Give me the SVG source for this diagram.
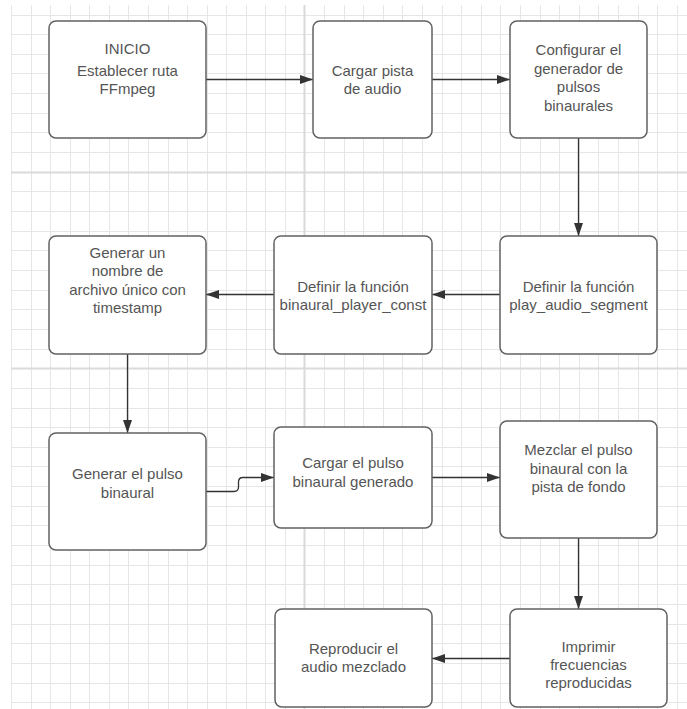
<svg xmlns="http://www.w3.org/2000/svg" width="687" height="709" viewBox="0 0 687 709">
<defs>
<style>
.grid{stroke:#e6e6e6;stroke-width:1;fill:none}
.major{stroke:#dadada;stroke-width:2;fill:none}
.box{fill:#ffffff;stroke:#616161;stroke-width:1.5}
.lbl{font-family:"Liberation Sans",Arial,sans-serif;font-size:15px;fill:#555555;text-anchor:middle}
.conn{stroke:#333333;stroke-width:1.3;fill:none;marker-end:url(#arrow)}
</style>
<marker id="arrow" viewBox="0 0 13 9" refX="13" refY="4.5" markerWidth="13" markerHeight="9" markerUnits="userSpaceOnUse" orient="auto">
<path d="M0,0 L13,4.5 L0,9 Z" fill="#333333"/>
</marker>
</defs>
<rect x="0" y="0" width="687" height="709" fill="#ffffff"/>
<g id="grid">
<path class="grid" d="M11.5 5V709M31.5 5V709M50.5 5V709M70.5 5V709M89.5 5V709M109.5 5V709M128.5 5V709M148.5 5V709M168.5 5V709M187.5 5V709M207.5 5V709M226.5 5V709M246.5 5V709M265.5 5V709M285.5 5V709M324.5 5V709M344.5 5V709M363.5 5V709M383.5 5V709M402.5 5V709M422.5 5V709M442.5 5V709M461.5 5V709M481.5 5V709M500.5 5V709M520.5 5V709M540.5 5V709M559.5 5V709M579.5 5V709M598.5 5V709M618.5 5V709M638.5 5V709M657.5 5V709M677.5 5V709"/>
<path class="grid" d="M11 15.5H687M11 34.5H687M11 54.5H687M11 73.5H687M11 93.5H687M11 113.5H687M11 132.5H687M11 152.5H687M11 191.5H687M11 211.5H687M11 231.5H687M11 250.5H687M11 270.5H687M11 290.5H687M11 309.5H687M11 329.5H687M11 349.5H687M11 388.5H687M11 408.5H687M11 427.5H687M11 447.5H687M11 466.5H687M11 486.5H687M11 506.5H687M11 525.5H687M11 545.5H687M11 565.5H687M11 584.5H687M11 604.5H687M11 624.5H687M11 643.5H687M11 663.5H687M11 683.5H687M11 702.5H687"/>
<path class="major" d="M304.5 5V709M11 172.5H687M11 368.5H687"/>
</g>
<g id="connectors">
<path class="conn" d="M206 79.5H313"/>
<path class="conn" d="M432 79.5H510"/>
<path class="conn" d="M578.5 138V236"/>
<path class="conn" d="M500 294.5H432"/>
<path class="conn" d="M274 294.5H206"/>
<path class="conn" d="M127.5 354V433"/>
<path class="conn" d="M206 491.5H234Q238.5 491.5 238.5 487V482Q238.5 477.5 243 477.5H274"/>
<path class="conn" d="M432 477.5H500"/>
<path class="conn" d="M578.5 538V609"/>
<path class="conn" d="M510 658.5H432"/>
</g>
<g id="n1">
<rect class="box" x="49" y="21" width="157" height="117" rx="7"/>
<text class="lbl" x="127.5" y="54">INICIO</text>
<text class="lbl" x="127.5" y="75.5">Establecer ruta</text>
<text class="lbl" x="127.5" y="94">FFmpeg</text>
</g>
<g id="n2">
<rect class="box" x="313" y="21" width="119" height="117" rx="7"/>
<text class="lbl" x="372.5" y="76">Cargar pista</text>
<text class="lbl" x="372.5" y="94">de audio</text>
</g>
<g id="n3">
<rect class="box" x="510" y="21" width="137" height="117" rx="7"/>
<text class="lbl" x="578.5" y="55">Configurar el</text>
<text class="lbl" x="578.5" y="73.5">generador de</text>
<text class="lbl" x="578.5" y="92">pulsos</text>
<text class="lbl" x="578.5" y="110.5">binaurales</text>
</g>
<g id="n4">
<rect class="box" x="500" y="236" width="157" height="118" rx="7"/>
<text class="lbl" x="578.5" y="291.5">Definir la función</text>
<text class="lbl" x="578.5" y="309.5">play_audio_segment</text>
</g>
<g id="n5">
<rect class="box" x="274" y="236" width="158" height="118" rx="7"/>
<text class="lbl" x="353" y="291.5">Definir la función</text>
<text class="lbl" x="353" y="309.5">binaural_player_const</text>
</g>
<g id="n6">
<rect class="box" x="49" y="236" width="157" height="118" rx="7"/>
<text class="lbl" x="127.5" y="257.5">Generar un</text>
<text class="lbl" x="127.5" y="276">nombre de</text>
<text class="lbl" x="127.5" y="294.5">archivo único con</text>
<text class="lbl" x="127.5" y="313">timestamp</text>
</g>
<g id="n7">
<rect class="box" x="49" y="433" width="157" height="117" rx="7"/>
<text class="lbl" x="127.5" y="479">Generar el pulso</text>
<text class="lbl" x="127.5" y="497.5">binaural</text>
</g>
<g id="n8">
<rect class="box" x="274" y="427" width="158" height="101" rx="7"/>
<text class="lbl" x="353" y="468">Cargar el pulso</text>
<text class="lbl" x="353" y="486.5">binaural generado</text>
</g>
<g id="n9">
<rect class="box" x="500" y="421" width="157" height="117" rx="7"/>
<text class="lbl" x="578.5" y="455">Mezclar el pulso</text>
<text class="lbl" x="578.5" y="473.5">binaural con la</text>
<text class="lbl" x="578.5" y="492">pista de fondo</text>
</g>
<g id="n10">
<rect class="box" x="510" y="609" width="157" height="98" rx="7"/>
<text class="lbl" x="588.5" y="652">Imprimir</text>
<text class="lbl" x="588.5" y="670">frecuencias</text>
<text class="lbl" x="588.5" y="688">reproducidas</text>
</g>
<g id="n11">
<rect class="box" x="275" y="609" width="157" height="98" rx="7"/>
<text class="lbl" x="353.5" y="653.5">Reproducir el</text>
<text class="lbl" x="353.5" y="671.5">audio mezclado</text>
</g>
</svg>
